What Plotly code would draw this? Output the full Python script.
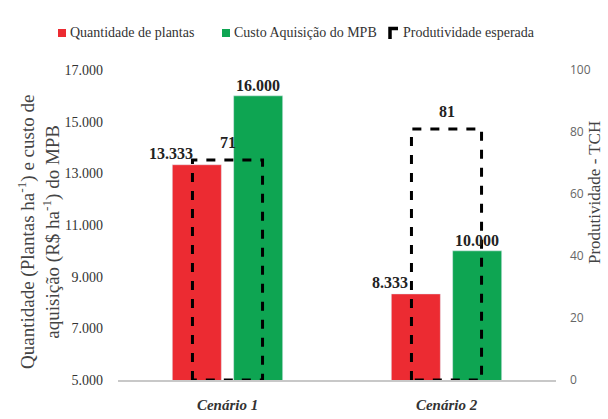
import plotly.graph_objects as go

categories = ["Cenário 1", "Cenário 2"]
quantidade = [13333, 8333]
custo = [16000, 10000]
produtividade = [71, 81]
series_names = ["Quantidade de plantas", "Custo Aquisição do MPB", "Produtividade esperada"]
left_title = "Quantidade (Plantas ha<sup>-1</sup>) e custo de<br>aquisição (R$ ha<sup>-1</sup>) do MPB"
right_title = "Produtividade - TCH"

RED = "#EC2B32"
GREEN = "#0EA552"
SERIF = "Liberation Serif"

W, H = 608, 419
ML, MR, MT, MB = 118, 52, 70, 39
PW, PH = W - ML - MR, H - MT - MB

def fmt(v):
    return f"{v:,.0f}".replace(",", ".")

def px(x):
    return (x - ML) / PW

def py(y):
    return (H - MB - y) / PH

xpos = list(range(len(categories)))
BG = 0.44
BGG = 0.2
slot = (1 - BG) / 2
box_half = 0.16

fig = go.Figure()
fig.add_trace(go.Bar(x=xpos, y=quantidade, name=series_names[0],
                     marker_color=RED, yaxis="y"))
fig.add_trace(go.Bar(x=xpos, y=custo, name=series_names[1],
                     marker_color=GREEN, yaxis="y"))

bx, by = [], []
for c, v in zip(xpos, produtividade):
    bx += [c - box_half, c - box_half, c + box_half, c + box_half, c - box_half, None]
    by += [0, v, v, 0, 0, None]
fig.add_trace(go.Scatter(x=bx, y=by, mode="lines", name=series_names[2],
                         line=dict(color="black", width=3, dash="dash"),
                         yaxis="y2", connectgaps=False))

ann = []
lab_font = dict(family=SERIF, size=16, color="#222")
for c, q, k, p in zip(xpos, quantidade, custo, produtividade):
    ann.append(dict(x=c - slot / 2, y=q, xref="x", yref="y", text=f"<b>{fmt(q)}</b>",
                    showarrow=False, yanchor="bottom", xshift=-26, yshift=1, font=lab_font))
    ann.append(dict(x=c + slot / 2, y=k, xref="x", yref="y", text=f"<b>{fmt(k)}</b>",
                    showarrow=False, yanchor="bottom", yshift=0, font=lab_font))
    ann.append(dict(x=c, y=p, xref="x", yref="y2", text=f"<b>{p}</b>",
                    showarrow=False, yanchor="bottom", yshift=7, font=lab_font))

# axis titles
ann.append(dict(x=px(39), y=py(232), xref="paper", yref="paper", text=left_title,
                textangle=-90, showarrow=False, xanchor="center", yanchor="middle",
                font=dict(family=SERIF, size=19, color="#444")))
ann.append(dict(x=px(594), y=py(193), xref="paper", yref="paper", text=right_title,
                textangle=-90, showarrow=False, xanchor="center", yanchor="middle",
                font=dict(family=SERIF, size=17, color="#444")))

# manual legend
leg_font = dict(family=SERIF, size=14, color="#333")
leg_text_x = [68, 232, 401]
leg_y = 33
for name, tx in zip(series_names, leg_text_x):
    ann.append(dict(x=px(tx), y=py(leg_y), xref="paper", yref="paper", text=name,
                    showarrow=False, xanchor="left", yanchor="middle", font=leg_font))

shapes = [
    dict(type="rect", xref="paper", yref="paper", x0=px(58), x1=px(66),
         y0=py(37), y1=py(29), fillcolor=RED, line=dict(width=0)),
    dict(type="rect", xref="paper", yref="paper", x0=px(222), x1=px(230),
         y0=py(37), y1=py(29), fillcolor=GREEN, line=dict(width=0)),
    dict(type="path", xref="paper", yref="paper",
         path=f"M {px(390)} {py(39)} L {px(390)} {py(28.5)} L {px(398)} {py(28.5)}",
         line=dict(color="black", width=3.5)),
]

fig.update_layout(
    width=W, height=H,
    margin=dict(l=ML, r=MR, t=MT, b=MB, autoexpand=False),
    plot_bgcolor="white", paper_bgcolor="white",
    separators=",.",
    barmode="group", bargap=BG, bargroupgap=BGG,
    showlegend=False,
    xaxis=dict(range=[-0.5, 1.5], tickvals=xpos,
               ticktext=[f"<b><i>{c}</i></b>" for c in categories],
               tickfont=dict(family=SERIF, size=15, color="#333"),
               showline=True, linecolor="#C8C8C8", linewidth=1.5,
               showgrid=False, zeroline=False, ticks="", ticklabelstandoff=10,
               automargin=False),
    yaxis=dict(range=[5000, 17000], tickvals=list(range(5000, 17001, 2000)),
               tickformat=",d", showgrid=False, zeroline=False,
               tickfont=dict(family=SERIF, size=14, color="#333"),
               ticks="", ticklabelstandoff=14, automargin=False),
    yaxis2=dict(range=[0, 100], dtick=20, overlaying="y", side="right",
                showgrid=False, zeroline=False,
                tickfont=dict(family="Open Sans", size=12, color="#666"),
                ticks="", ticklabelstandoff=13, automargin=False),
    annotations=ann,
    shapes=shapes,
)

fig.write_html("out.html")
